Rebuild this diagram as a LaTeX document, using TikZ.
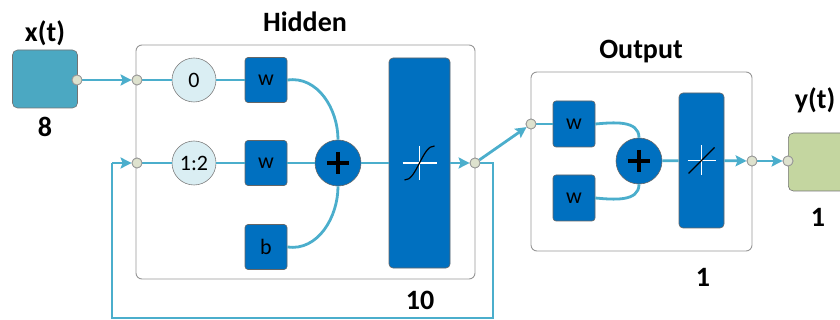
\documentclass[tikz,border=0pt]{standalone}
\usepackage{fontspec}
\setmainfont{Carlito}
\usetikzlibrary{arrows.meta,calc}
\definecolor{linec}{RGB}{75,174,204}
\definecolor{dblue}{RGB}{0,112,192}
\definecolor{tealbox}{RGB}{75,168,194}
\definecolor{lightc}{RGB}{218,238,243}
\definecolor{dotc}{RGB}{222,226,206}
\definecolor{greenbox}{RGB}{196,214,160}
\definecolor{grayb}{RGB}{150,150,150}
\tikzset{
  conn/.style={draw=linec,line width=2.8pt},
  arr/.style={conn,-{Stealth[length=11pt,width=11pt,inset=2pt]}},
  portdot/.style={circle,draw=grayb,fill=dotc,line width=0.8pt,inner sep=0pt,minimum size=10pt},
  wbox/.style={rectangle,rounded corners=3pt,draw=black!60,fill=dblue,line width=0.6pt,minimum width=42pt,minimum height=45pt,inner sep=0pt,font=\fontsize{22}{22}\selectfont},
  delay/.style={circle,draw=black!50,fill=lightc,line width=0.6pt,minimum size=44pt,inner sep=0pt,font=\fontsize{22}{22}\selectfont},
  sumc/.style={circle,draw=black!60,fill=dblue,line width=0.6pt,minimum size=46pt,inner sep=0pt},
  tfbox/.style={rectangle,rounded corners=4pt,draw=black!60,fill=dblue,line width=0.6pt,inner sep=0pt},
  layerbox/.style={rectangle,rounded corners=6pt,draw=grayb,line width=0.9pt,inner sep=0pt},
  lbl/.style={font=\bfseries\fontsize{28}{28}\selectfont,inner sep=0pt}
}
\begin{document}
\begin{tikzpicture}[x=1pt,y=-1pt]
\useasboundingbox (0,0) rectangle (840,320);
\clip (0,0) rectangle (840,320);
% input
\node[rectangle,rounded corners=5pt,draw=black!55,fill=tealbox,line width=0.6pt,minimum width=65pt,minimum height=58pt,inner sep=0pt] (xin) at (45,79) {};
\node[lbl] (xlab) at (45,33) {x(t)};
\node[lbl] (xnum) at (45,127) {8};
\node[portdot] (xout) at (77,80) {};
% hidden layer box
\node[layerbox,minimum width=339pt,minimum height=234pt] (hid) at (305.5,162) {};
\node[lbl] (hlab) at (305,22) {Hidden};
\node[lbl] (hnum) at (420,300) {10};
\node[delay] (d0) at (194,80) {0};
\node[delay] (d12) at (194,163) {1:2};
\node[wbox] (w1) at (266,80) {w};
\node[wbox] (w2) at (266,163) {w};
\node[wbox] (b1) at (266,247) {b};
\node[sumc] (s1) at (338,163) {};
\node[tfbox,minimum width=61pt,minimum height=210pt] (tf1) at (419.5,163) {};
\node[portdot] (hin1) at (137,80) {};
\node[portdot] (hin2) at (137,163) {};
\node[portdot] (hout) at (475,163) {};
% output layer box
\node[layerbox,minimum width=221pt,minimum height=179pt] (outl) at (641.5,161.5) {};
\node[lbl] (olab) at (641,52) {Output};
\node[lbl] (onum) at (703,277) {1};
\node[wbox,minimum height=46pt] (w3) at (574,124) {w};
\node[wbox,minimum height=46pt] (w4) at (574,198) {w};
\node[sumc] (s2) at (639,161) {};
\node[tfbox,minimum width=45pt,minimum height=135pt] (tf2) at (701.5,160.5) {};
\node[portdot] (oin) at (531,124) {};
\node[portdot] (oout) at (752,161) {};
% output target
\node[rectangle,rounded corners=5pt,draw=black!55,fill=greenbox,line width=0.6pt,minimum width=80pt,minimum height=58pt,inner sep=0pt,anchor=west] (yb) at (788,162) {};
\node[portdot] (yin) at (788,161) {};
\node[lbl] (ylab) at (815,100) {y(t)};
\node[lbl] (ynum) at (818,217) {1};
% connections (hidden)
\draw[arr] (xout) -- (hin1);
\draw[conn] (hin1) -- (d0);
\draw[conn] (d0) -- (w1);
\draw[conn] (hin2) -- (d12);
\draw[conn] (d12) -- (w2);
\draw[conn] (w2) -- (s1);
\draw[conn] (w1.east) to[out=8,in=90] (s1.north);
\draw[conn] (b1.east) to[out=-8,in=-90] (s1.south);
\draw[conn] (s1) -- (tf1);
\draw[arr] (tf1) -- (hout);
\coordinate (fb1) at (493,163);
\coordinate (fb2) at (493,318);
\coordinate (fb3) at (112,318);
\coordinate (fb4) at (112,163);
\draw[conn] (hout) -- (fb1) -- (fb2) -- (fb3) -- (fb4);
\draw[arr] (fb4) -- (hin2);
\draw[arr] (hout) -- (oin);
% connections (output)
\draw[conn] (oin) -- (w3);
\draw[conn] (w3.east) to[out=5,in=90] (s2.north);
\draw[conn] (w4.east) to[out=-5,in=-90] (s2.south);
\draw[conn] (s2) -- (tf2);
\draw[arr] (tf2) -- (oout);
\draw[arr] (oout) -- (yin);
% redraw dots on top
\node[portdot] at (xout) {};
\node[portdot] at (hin1) {};
\node[portdot] at (hin2) {};
\node[portdot] at (hout) {};
\node[portdot] at (oin) {};
\node[portdot] at (oout) {};
\node[portdot] at (yin) {};
% plus signs
\foreach \s in {s1,s2}{
  \draw[black,line width=3.4pt] ($(\s)+(-11,0)$) -- ($(\s)+(11,0)$);
  \draw[black,line width=3.4pt] ($(\s)+(0,-11)$) -- ($(\s)+(0,11)$);
}
% tansig symbol
\draw[white,line width=1.6pt] ($(tf1)+(-17,0)$) -- ($(tf1)+(17,0)$);
\draw[white,line width=1.6pt] ($(tf1)+(0,-17)$) -- ($(tf1)+(0,17)$);
\draw[black,line width=1.2pt] ($(tf1)+(-15,17)$) .. controls ($(tf1)+(-3,18)$) and ($(tf1)+(3,-18)$) .. ($(tf1)+(15,-17)$);
% purelin symbol
\draw[white,line width=1.6pt] ($(tf2)+(-14,0)$) -- ($(tf2)+(14,0)$);
\draw[white,line width=1.6pt] ($(tf2)+(0,-15)$) -- ($(tf2)+(0,15)$);
\draw[black,line width=1.3pt] ($(tf2)+(-13,13)$) -- ($(tf2)+(13,-13)$);
\end{tikzpicture}
\end{document}
